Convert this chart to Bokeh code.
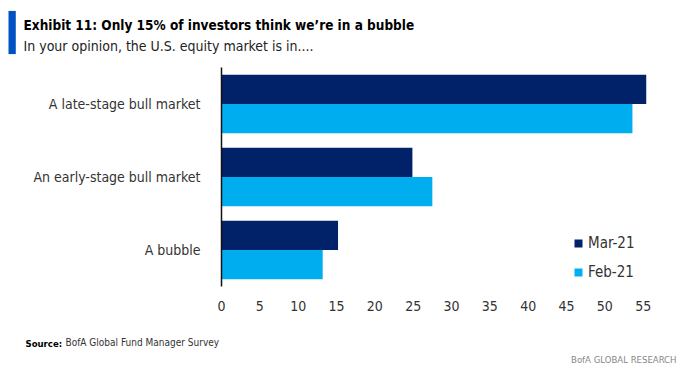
from bokeh.plotting import figure
from bokeh.models import FactorRange, Range1d, Legend, LegendItem, Label, ColumnDataSource, FixedTicker
from bokeh.transform import dodge
from bokeh.embed import file_html
from bokeh.resources import INLINE

categories = ["A bubble", "An early-stage bull market", "A late-stage bull market"]
mar21 = [15.2, 24.9, 55.4]
feb21 = [13.2, 27.5, 53.6]
series_names = ["Mar-21", "Feb-21"]
x_ticks = [0, 5, 10, 15, 20, 25, 30, 35, 40, 45, 50, 55]

FONT = "DejaVu Sans Condensed"
NAVY = "#012169"
LIGHT = "#00AEEF"

W, H = 680, 372
p = figure(width=W, height=H, output_backend="svg", toolbar_location=None,
           y_range=FactorRange(factors=categories, range_padding=0),
           x_range=Range1d(0, 57),
           min_border_left=221, min_border_top=67, min_border_bottom=86, min_border_right=22)
p.outline_line_color = None
p.xgrid.grid_line_color = None
p.ygrid.grid_line_color = None

src = ColumnDataSource(dict(cat=categories, mar=mar21, feb=feb21))
r1 = p.hbar(y=dodge("cat", 0.2, range=p.y_range), right="mar", left=0, height=0.4,
            source=src, color=NAVY, line_color=None)
r2 = p.hbar(y=dodge("cat", -0.2, range=p.y_range), right="feb", left=0, height=0.4,
            source=src, color=LIGHT, line_color=None)

p.xaxis.ticker = FixedTicker(ticks=x_ticks)
p.xaxis.axis_line_color = None
p.xaxis.major_tick_line_color = None
p.xaxis.minor_tick_line_color = None
p.xaxis.major_label_text_font = FONT
p.xaxis.major_label_text_font_size = "14px"
p.xaxis.major_label_text_color = "#333333"
p.xaxis.major_label_standoff = 8

p.yaxis.axis_line_color = "#111111"
p.yaxis.axis_line_width = 1.5
p.yaxis.major_tick_line_color = None
p.yaxis.minor_tick_line_color = None
p.yaxis.major_label_text_font = FONT
p.yaxis.major_label_text_font_size = "14px"
p.yaxis.major_label_text_color = "#333333"
p.yaxis.major_label_standoff = 15

legend = Legend(items=[LegendItem(label=series_names[0], renderers=[r1]),
                       LegendItem(label=series_names[1], renderers=[r2])],
                location=(352, 4), glyph_width=10, glyph_height=10, label_height=20,
                spacing=9, padding=0, margin=0, border_line_color=None,
                background_fill_alpha=0, label_text_font=FONT,
                label_text_font_size="15px", label_text_color="#333333",
                label_standoff=5)
p.add_layout(legend, "center")

# header: labels in the above panel (row 1 nearest the frame)
p.add_layout(Label(x=23 - 221, y=22, x_units="screen", y_units="screen",
                   text="In your opinion, the U.S. equity market is in....",
                   text_font=FONT, text_font_size="14px", text_color="#222222",
                   text_baseline="middle"), "above")
p.add_layout(Label(x=23 - 221, y=27, x_units="screen", y_units="screen",
                   text="Exhibit 11: Only 15% of investors think we\u2019re in a bubble",
                   text_font=FONT, text_font_size="13.5px", text_font_style="bold",
                   text_color="#000000", text_baseline="middle"), "above")

# blue accent bar left of the header (a padded blank label in the right panel)
bar = Label(x=8 - 658, y=286 - 32, x_units="screen", y_units="screen", text=" ",
            text_font=FONT, text_font_size="1px", text_baseline="middle",
            background_fill_color="#0052C2", background_fill_alpha=1.0)
try:
    bar.padding = dict(left=3, right=4, top=21, bottom=21)
except Exception:
    try:
        bar.padding = (3, 4, 21, 21)
    except Exception:
        bar.padding = 4
p.add_layout(bar, "right")

# footer (labels stacked in the below panel; positions calibrated per row)
FB = 329
def foot(px, py, text, **kw):
    p.add_layout(Label(x=px - 221, y=FB - py, x_units="screen", y_units="screen",
                       text=text, text_font=FONT, text_baseline="middle", **kw), "below")

foot(25, 348, "Source:", text_font_style="bold", text_font_size="9.5px", text_color="#000000")
foot(65, 336, "BofA Global Fund Manager Survey", text_font_size="10px", text_color="#333333")
foot(676, 342, "BofA GLOBAL RESEARCH", text_font_size="9.5px", text_color="#888888",
     text_align="right")

open("out.html", "w").write(file_html(p, INLINE))
